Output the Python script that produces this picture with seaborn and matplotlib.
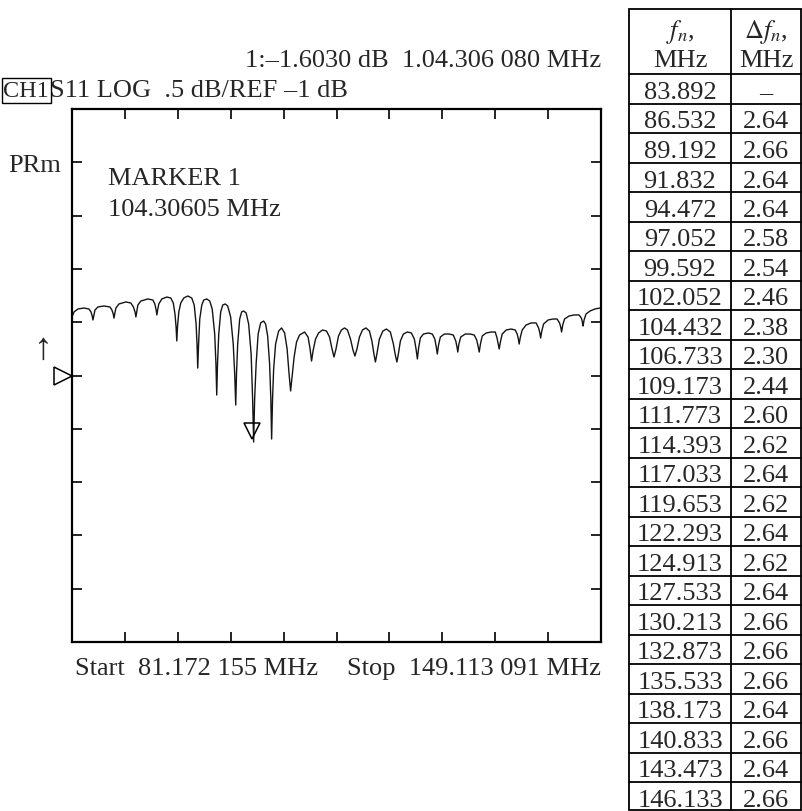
import numpy as np
import pandas as pd
import matplotlib
matplotlib.use("Agg")
import matplotlib.pyplot as plt
import matplotlib.transforms as mtransforms
import seaborn as sns

# ---------------- trace (MHz, dB) ----------------
freq_left = [81.17, 81.43, 81.94, 82.71, 83.35, 83.61, 83.77, 83.86, 83.96, 84.12,
             84.50, 85.27, 86.04, 86.30, 86.47, 86.56, 86.66, 86.81, 87.20, 88.09,
             88.73, 89.06, 89.27, 89.38, 89.48, 89.63, 90.02, 90.91, 91.56, 91.81,
             91.98, 92.07, 92.17, 92.32, 92.71, 93.35]
db_left = [-0.451, -0.404, -0.376, -0.367, -0.376, -0.404, -0.442, -0.479, -0.442, -0.386,
           -0.357, -0.348, -0.357, -0.386, -0.423, -0.461, -0.423, -0.367, -0.329, -0.310,
           -0.320, -0.357, -0.404, -0.451, -0.404, -0.339, -0.301, -0.282, -0.292, -0.329,
           -0.386, -0.432, -0.386, -0.329, -0.282, -0.264]

freq_deep = [93.86, 94.18, 94.40, 94.54, 94.63, 94.72, 94.89, 95.14, 95.53, 96.04,
             96.55, 96.87, 97.11, 97.23, 97.32, 97.43, 97.58, 97.84, 98.09, 98.48,
             98.86, 99.18, 99.50, 99.66, 99.76, 99.86, 100.02, 100.27, 100.53, 100.85,
             101.17, 101.55, 101.88, 102.07, 102.20, 102.30, 102.45, 102.71, 102.96, 103.22,
             103.54, 103.86, 104.18, 104.37, 104.50, 104.63, 104.82, 105.08, 105.40, 105.78,
             106.04, 106.30, 106.55, 106.71, 106.81, 106.93, 107.07, 107.32, 107.71, 108.09,
             108.48, 108.80, 109.05, 109.25, 109.44, 109.70, 110.01, 110.40, 111.04]
db_deep = [-0.273, -0.320, -0.423, -0.545, -0.676, -0.545, -0.404, -0.320, -0.273, -0.254,
           -0.273, -0.339, -0.517, -0.705, -0.930, -0.705, -0.470, -0.339, -0.292, -0.282,
           -0.301, -0.376, -0.611, -0.892, -1.183, -0.892, -0.611, -0.404, -0.339, -0.329,
           -0.348, -0.451, -0.705, -0.986, -1.277, -0.986, -0.705, -0.470, -0.404, -0.395,
           -0.414, -0.517, -0.798, -1.220, -1.624, -1.220, -0.892, -0.611, -0.507, -0.489,
           -0.517, -0.629, -0.892, -1.220, -1.596, -1.220, -0.939, -0.705, -0.583, -0.554,
           -0.601, -0.751, -0.986, -1.145, -1.014, -0.826, -0.686, -0.620, -0.592]

freq_mid = [111.49, 111.75, 111.94, 112.13, 112.45, 112.84, 113.35, 113.86, 114.25, 114.57,
            114.82, 115.08, 115.40, 115.78, 116.17, 116.55, 116.94, 117.26, 117.51, 117.77,
            118.09, 118.48, 118.92, 119.37, 119.69, 119.95, 120.14, 120.33, 120.65, 121.10,
            121.55, 122.06, 122.45, 122.70, 122.90, 123.09, 123.35, 123.73, 124.24, 124.76]
db_mid = [-0.639, -0.751, -0.864, -0.770, -0.658, -0.601, -0.573, -0.583, -0.639, -0.751,
          -0.826, -0.751, -0.629, -0.573, -0.554, -0.573, -0.658, -0.761, -0.817, -0.751,
          -0.639, -0.573, -0.554, -0.583, -0.676, -0.798, -0.873, -0.798, -0.658, -0.583,
          -0.564, -0.592, -0.705, -0.808, -0.873, -0.798, -0.676, -0.611, -0.592, -0.601]

freq_right = [125.14, 125.36, 125.53, 125.69, 125.91, 126.30, 126.94, 127.45, 127.77, 127.96,
              128.09, 128.25, 128.48, 128.99, 129.63, 130.14, 130.46, 130.62, 130.72, 130.86,
              131.10, 131.68, 132.32, 132.83, 133.15, 133.35, 133.47, 133.63, 133.86, 134.37,
              135.01, 135.53, 135.76, 135.91, 136.04, 136.19, 136.42, 136.94, 137.58, 138.09,
              138.35, 138.50, 138.60, 138.76, 138.99, 139.50, 140.14, 140.78, 141.10, 141.26,
              141.36, 141.51, 141.74, 142.32, 142.96, 143.47, 143.79, 143.94, 144.05, 144.20,
              144.43, 145.01, 145.65, 146.29, 146.59, 146.72, 146.81, 146.94, 147.19, 147.70,
              148.34, 148.98]
db_right = [-0.658, -0.751, -0.845, -0.742, -0.648, -0.611, -0.601, -0.611, -0.658, -0.733,
            -0.798, -0.714, -0.639, -0.611, -0.611, -0.620, -0.676, -0.733, -0.780, -0.705,
            -0.639, -0.611, -0.611, -0.620, -0.667, -0.733, -0.780, -0.705, -0.629, -0.601,
            -0.592, -0.592, -0.648, -0.705, -0.751, -0.686, -0.611, -0.573, -0.564, -0.573,
            -0.611, -0.658, -0.705, -0.639, -0.573, -0.526, -0.507, -0.507, -0.554, -0.601,
            -0.648, -0.583, -0.517, -0.479, -0.470, -0.470, -0.507, -0.545, -0.592, -0.526,
            -0.470, -0.442, -0.432, -0.432, -0.461, -0.498, -0.536, -0.479, -0.423, -0.395,
            -0.376, -0.367]

# ---------------- table ----------------
fn_mhz = ["83.892", "86.532", "89.192", "91.832", "94.472", "97.052", "99.592", "102.052",
          "104.432", "106.733", "109.173", "111.773", "114.393", "117.033", "119.653", "122.293",
          "124.913", "127.533", "130.213", "132.873", "135.533", "138.173", "140.833", "143.473",
          "146.133"]
dfn_mhz = ["–", "2.64", "2.66", "2.64", "2.64", "2.58", "2.54", "2.46", "2.38", "2.30",
           "2.44", "2.60", "2.62", "2.64", "2.62", "2.64", "2.62", "2.64", "2.66", "2.66",
           "2.66", "2.64", "2.66", "2.64", "2.66"]

start_mhz = 81.172155
stop_mhz = 149.113091
ref_db = -1.0
db_per_div = 0.5
marker_mhz = 104.30605
marker_db = -1.6030

# ---------------- figure ----------------
sns.set_theme(style="ticks")
plt.rcParams["font.family"] = ["Liberation Serif", "DejaVu Serif"]
plt.rcParams["mathtext.fontset"] = "stix"

W, H = 802, 812
FS = 19
fig = plt.figure(figsize=(W / 100, H / 100), dpi=100)
fig.patch.set_facecolor("white")


def fx(px):
    return px / W


def fy(py):
    return 1 - py / H


ax = fig.add_axes([fx(72), fy(643), fx(601) - fx(72), fy(110) - fy(643)])
df = pd.DataFrame({"f": freq_left + freq_deep + freq_mid + freq_right,
                   "db": db_left + db_deep + db_mid + db_right})
sns.lineplot(data=df, x="f", y="db", ax=ax, color="#141414", lw=1.0,
             estimator=None, sort=False)
ax.set_xlim(start_mhz, stop_mhz)
ax.set_ylim(ref_db - 5 * db_per_div, ref_db + 5 * db_per_div)
ax.set_xticks(np.linspace(start_mhz, stop_mhz, 11))
ax.set_yticks(np.linspace(ref_db - 5 * db_per_div, ref_db + 5 * db_per_div, 11))
ax.tick_params(direction="in", length=7.5, width=1.2, top=True, right=True,
               bottom=True, left=True, labelbottom=False, labelleft=False,
               colors="black")
for s in ax.spines.values():
    s.set_linewidth(1.6)
    s.set_color("black")
ax.set_xlabel("")
ax.set_ylabel("")
ax.set_facecolor("white")

# marker 1 (open down-triangle, tip on the trace)
tri_tr = mtransforms.offset_copy(ax.transData, fig=fig, x=0, y=8.3, units="dots")
ax.plot([marker_mhz], [marker_db], marker="v", ms=12, mfc="none", mec="black",
        mew=1.1, transform=tri_tr, clip_on=False, ls="none")

# reference-position marker on the left
blend = mtransforms.blended_transform_factory(ax.transAxes, ax.transData)
ref_tr = mtransforms.offset_copy(blend, fig=fig, x=-9, y=0, units="dots")
ax.plot([0], [ref_db], marker=">", ms=12.5, mfc="none", mec="black", mew=1.1,
        transform=ref_tr, clip_on=False, ls="none")

# ---------------- texts ----------------
fig.text(fx(601), fy(67), "1:–1.6030 dB  1.04.306 080 MHz", ha="right",
         va="baseline", fontsize=FS)
fig.text(fx(3.5), fy(97), "CH1", ha="left", va="baseline", fontsize=17.5,
         bbox=dict(boxstyle="square,pad=0.07", fc="white", ec="black", lw=1.0))
fig.text(fx(50), fy(97), "S11 LOG  .5 dB/REF –1 dB", ha="left", va="baseline",
         fontsize=FS)
fig.text(fx(8), fy(172), "PRm", ha="left", va="baseline", fontsize=FS)
fig.text(fx(108), fy(185), "MARKER 1", ha="left", va="baseline", fontsize=FS)
fig.text(fx(108), fy(216), "104.30605 MHz", ha="left", va="baseline", fontsize=FS)
fig.text(fx(43), fy(350), "↑", ha="center", va="center", fontsize=27,
         family=["Liberation Serif", "DejaVu Sans"])
fig.text(fx(75), fy(675), "Start  81.172 155 MHz", ha="left", va="baseline",
         fontsize=FS)
fig.text(fx(347), fy(675), "Stop  149.113 091 MHz", ha="left", va="baseline",
         fontsize=FS)

# ---------------- table drawing ----------------
axt = fig.add_axes([0, 0, 1, 1], zorder=-1)
axt.set_xlim(0, W)
axt.set_ylim(H, 0)
axt.axis("off")
x_l, x_m, x_r = 629, 731, 801
y_top, y_head = 10, 75
row_h = 29.5
n = len(fn_mhz)
y_bot = min(y_head + n * row_h, H - 1)
lw_t = 1.3
for xv in (x_l, x_m, x_r):
    axt.plot([xv, xv], [y_top, y_bot], color="black", lw=lw_t)
axt.plot([x_l, x_r], [y_top, y_top], color="black", lw=lw_t)
axt.plot([x_l, x_r], [y_head, y_head], color="black", lw=lw_t)
for k in range(1, n + 1):
    yl = min(y_head + k * row_h, H - 1)
    axt.plot([x_l, x_r], [yl, yl], color="black", lw=lw_t)

cx1, cx2 = (x_l + x_m) / 2, (x_m + x_r) / 2
axt.text(cx1, 38, r"$f_n$,", ha="center", va="baseline", fontsize=FS)
axt.text(cx2, 38, r"$\Delta f_n$,", ha="center", va="baseline", fontsize=FS)
axt.text(cx1, 67, "MHz", ha="center", va="baseline", fontsize=FS)
axt.text(cx2, 67, "MHz", ha="center", va="baseline", fontsize=FS)
for i, (a, b) in enumerate(zip(fn_mhz, dfn_mhz)):
    yb = y_head + (i + 1) * row_h - 5.5
    axt.text(cx1, yb, a, ha="center", va="baseline", fontsize=FS)
    axt.text(cx2, yb, b, ha="center", va="baseline", fontsize=FS)

fig.savefig("out.png", dpi=100, facecolor="white")
